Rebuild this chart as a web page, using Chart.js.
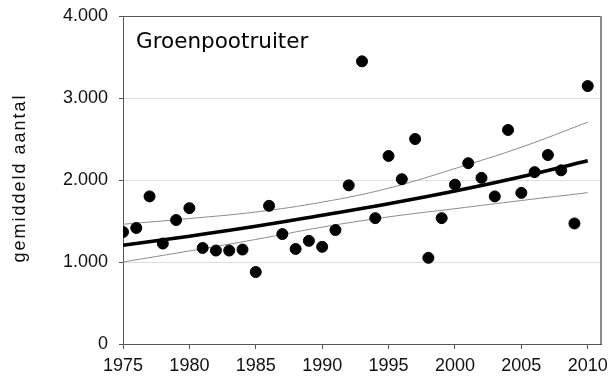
<!DOCTYPE html>
<html>
<head>
<meta charset="utf-8">
<script src="https://cdn.jsdelivr.net/npm/chart.js@4/dist/chart.umd.min.js"></script>
<style>
  html, body { margin: 0; padding: 0; background: #fff; }
  #wrap { width: 608px; height: 379px; }
</style>
</head>
<body>
<div id="wrap"><canvas id="chart" width="608" height="379"></canvas></div>
<script>
// yearly counts
const years = [1975, 1976, 1977, 1978, 1979, 1980, 1981, 1982, 1983, 1984,
  1985, 1986, 1987, 1988, 1989, 1990, 1991, 1992, 1993, 1994,
  1995, 1996, 1997, 1998, 1999, 2000, 2001, 2002, 2003, 2004,
  2005, 2006, 2007, 2008, 2009, 2010];
const counts = [1366, 1415, 1800, 1225, 1512, 1657, 1171, 1140, 1140, 1152,
  878, 1685, 1340, 1159, 1258, 1185, 1390, 1935, 3447, 1535,
  2293, 2010, 2500, 1051, 1535, 1943, 2205, 2026, 1800, 2610,
  1843, 2096, 2305, 2118, 1470, 3146];

// trend with upper / lower confidence limits
const trendYears = [1975, 1980, 1985, 1990, 1995, 2000, 2005, 2010];
const trend = [1205, 1315, 1435, 1570, 1710, 1865, 2040, 2235];
const upper = [1460, 1530, 1610, 1730, 1900, 2140, 2400, 2705];
const lower = [1000, 1135, 1275, 1425, 1550, 1650, 1750, 1845];

const xTicks = [1975, 1980, 1985, 1990, 1995, 2000, 2005, 2010];
const speciesName = 'Groenpootruiter';
const yTitle = 'gemiddeld aantal';

const pts = (xs, ys) => xs.map((x, i) => ({ x: x, y: ys[i] }));
const fmt = v => String(v).replace(/\B(?=(\d{3})+(?!\d))/g, '.');
const arial = 'Liberation Sans, Arial, sans-serif';

// right frame line, species name and the rotated y title
const frame = {
  id: 'frame',
  afterDraw(chart) {
    const { ctx, chartArea: a } = chart;
    ctx.save();
    ctx.strokeStyle = '#8a8a8a';
    ctx.lineWidth = 2;
    ctx.beginPath();
    ctx.moveTo(a.right, a.top);
    ctx.lineTo(a.right, a.bottom);
    ctx.stroke();

    ctx.fillStyle = '#000';
    ctx.font = '21.5px DejaVu Sans';
    ctx.textBaseline = 'alphabetic';
    ctx.fillText(speciesName, 136, 48);

    ctx.translate(20, (a.top + a.bottom) / 2 - 2);
    ctx.rotate(-Math.PI / 2);
    ctx.font = '18px ' + arial;
    ctx.letterSpacing = '2px';
    ctx.fillStyle = '#111';
    ctx.textAlign = 'center';
    ctx.textBaseline = 'middle';
    ctx.fillText(yTitle, 0, 0);
    ctx.restore();
  }
};

new Chart(document.getElementById('chart'), {
  type: 'scatter',
  data: {
    datasets: [
      {
        data: pts(years, counts),
        backgroundColor: '#000',
        borderColor: '#000',
        pointRadius: 5.5,
        pointHoverRadius: 5.5,
        order: 0
      },
      {
        type: 'line',
        data: pts(trendYears, trend),
        borderColor: '#000',
        borderWidth: 3.5,
        pointRadius: 0,
        tension: 0.4,
        fill: false,
        order: 1
      },
      {
        type: 'line',
        data: pts(trendYears, upper),
        borderColor: '#8c8c8c',
        borderWidth: 1,
        pointRadius: 0,
        tension: 0.4,
        fill: false,
        order: 2
      },
      {
        type: 'line',
        data: pts(trendYears, lower),
        borderColor: '#8c8c8c',
        borderWidth: 1,
        pointRadius: 0,
        tension: 0.4,
        fill: false,
        order: 2
      }
    ]
  },
  options: {
    responsive: false,
    animation: false,
    layout: { padding: { top: 16, right: 7, left: 0, bottom: 0 } },
    plugins: {
      legend: { display: false },
      tooltip: { enabled: false }
    },
    scales: {
      x: {
        type: 'linear',
        min: 1975,
        max: 2011,
        afterBuildTicks: s => { s.ticks = xTicks.map(v => ({ value: v })); },
        afterFit: s => { s.height = 35; s.paddingLeft = 0; s.paddingRight = 0; },
        border: { color: '#555', width: 1 },
        grid: { drawOnChartArea: false, drawTicks: true, tickLength: 5, tickColor: '#555' },
        ticks: {
          color: '#111',
          padding: 6,
          font: { family: arial, size: 18 },
          maxRotation: 0,
          callback: v => String(v)
        }
      },
      y: {
        min: 0,
        max: 4000,
        afterFit: s => { s.width = 123; s.paddingTop = 0; s.paddingBottom = 0; },
        border: { color: '#555', width: 1 },
        grid: {
          color: c => (c.tick && c.tick.value === 4000 ? '#555' : '#dedede'),
          lineWidth: 1,
          tickLength: 4,
          tickColor: '#555'
        },
        ticks: {
          stepSize: 1000,
          color: '#111',
          padding: 11,
          font: { family: arial, size: 18 },
          callback: v => fmt(v)
        }
      }
    }
  },
  plugins: [frame]
});
</script>
</body>
</html>
